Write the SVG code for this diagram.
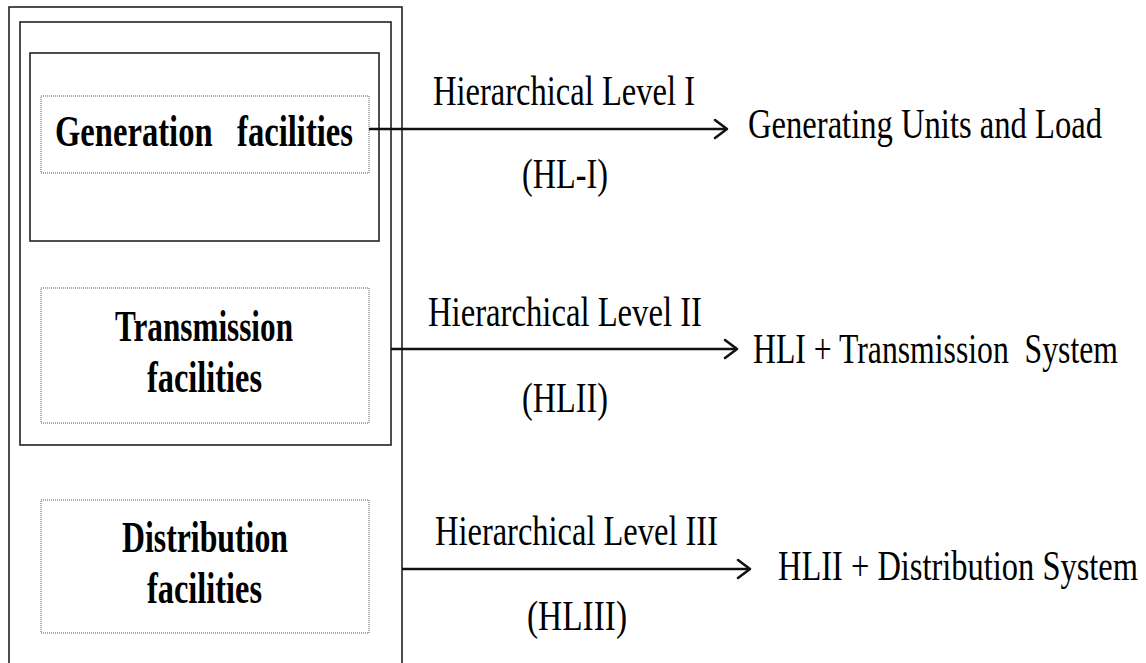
<svg xmlns="http://www.w3.org/2000/svg" width="1146" height="663" viewBox="0 0 1146 663">
<defs>
<style>
.frame{fill:none;stroke:#222;stroke-width:1.6}
.dot{fill:none;stroke:#555;stroke-width:1;stroke-dasharray:1 1}
.conn{fill:none;stroke:#111;stroke-width:2.6}
.head{fill:none;stroke:#111;stroke-width:2.6;stroke-linecap:round;stroke-linejoin:round}
.b{font-family:"Liberation Serif","Times New Roman",serif;font-weight:bold;font-size:32px;fill:#000}
.r{font-family:"Liberation Serif","Times New Roman",serif;font-size:32.5px;fill:#000}
</style>
</defs>
<rect width="1146" height="663" fill="#fff"/>
<g id="frames">
<rect class="frame" x="9" y="7" width="393" height="700"/>
<rect class="frame" x="20" y="22" width="371" height="423"/>
<rect class="frame" x="30" y="53" width="349" height="188"/>
</g>
<g id="generation">
<rect class="dot" x="41" y="96" width="328" height="77"/>
<text class="b" transform="translate(55,146) scale(1,1.38)" textLength="298" lengthAdjust="spacingAndGlyphs" xml:space="preserve">Generation   facilities</text>
</g>
<g id="transmission">
<rect class="dot" x="41" y="288" width="328" height="135"/>
<text class="b" transform="translate(115,341) scale(1,1.38)" textLength="178" lengthAdjust="spacingAndGlyphs">Transmission</text>
<text class="b" transform="translate(147,392) scale(1,1.38)" textLength="115" lengthAdjust="spacingAndGlyphs">facilities</text>
</g>
<g id="distribution">
<rect class="dot" x="41" y="500" width="328" height="133"/>
<text class="b" transform="translate(122,552) scale(1,1.38)" textLength="166" lengthAdjust="spacingAndGlyphs">Distribution</text>
<text class="b" transform="translate(147,603) scale(1,1.38)" textLength="115" lengthAdjust="spacingAndGlyphs">facilities</text>
</g>
<g id="connectors">
<line class="conn" x1="369" y1="129" x2="726" y2="129"/>
<polyline class="head" points="715,120 727,129 715,138"/>
<line class="conn" x1="391" y1="349" x2="736" y2="349"/>
<polyline class="head" points="725,340 737,349 725,358"/>
<line class="conn" x1="402" y1="569" x2="749" y2="569"/>
<polyline class="head" points="738,560 750,569 738,578"/>
</g>
<g id="level1">
<text class="r" transform="translate(433,105) scale(1,1.32)" textLength="262" lengthAdjust="spacingAndGlyphs">Hierarchical Level I</text>
<text class="r" transform="translate(522,188) scale(1,1.32)" textLength="86" lengthAdjust="spacingAndGlyphs">(HL-I)</text>
<text class="r" transform="translate(748,138) scale(1,1.3)" textLength="354" lengthAdjust="spacingAndGlyphs">Generating Units and Load</text>
</g>
<g id="level2">
<text class="r" transform="translate(428,326) scale(1,1.32)" textLength="274" lengthAdjust="spacingAndGlyphs">Hierarchical Level II</text>
<text class="r" transform="translate(522,412) scale(1,1.32)" textLength="86" lengthAdjust="spacingAndGlyphs">(HLII)</text>
<text class="r" transform="translate(753,363) scale(1,1.3)" textLength="365" lengthAdjust="spacingAndGlyphs" xml:space="preserve">HLI + Transmission  System</text>
</g>
<g id="level3">
<text class="r" transform="translate(435,545) scale(1,1.32)" textLength="283" lengthAdjust="spacingAndGlyphs">Hierarchical Level III</text>
<text class="r" transform="translate(527,630) scale(1,1.32)" textLength="100" lengthAdjust="spacingAndGlyphs">(HLIII)</text>
<text class="r" transform="translate(778,580) scale(1,1.3)" textLength="360" lengthAdjust="spacingAndGlyphs">HLII + Distribution System</text>
</g>
</svg>
